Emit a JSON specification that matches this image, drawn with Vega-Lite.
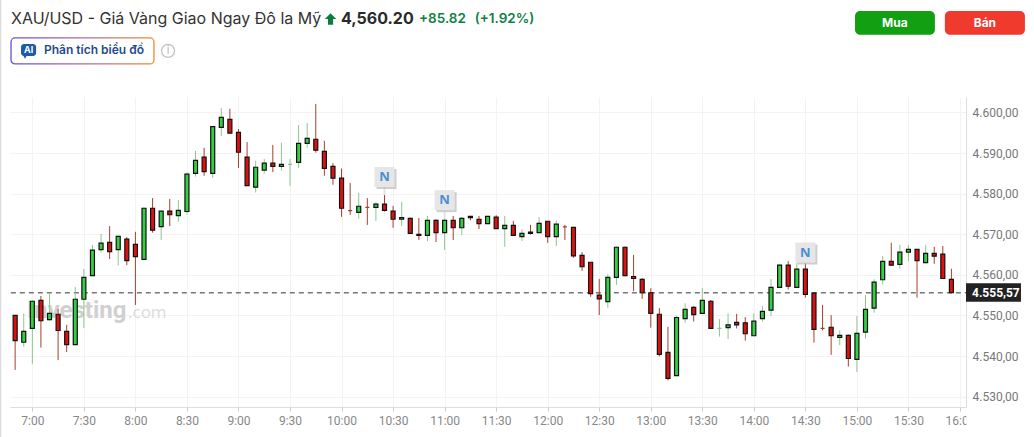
{"$schema":"https://vega.github.io/schema/vega-lite/v6.json","width":956,"height":310,"autosize":"none","padding":{"left":10,"top":97,"right":68,"bottom":30},"background":"#ffffff",
"config":{"view":{"stroke":null},"text":{"font":"Inter"}},
"datasets":{"candles":[
{"t":"2025-01-02T06:50","o":4550.0,"h":4550.0,"l":4536.6,"c":4543.8,"d":"down"},
{"t":"2025-01-02T06:55","o":4543.4,"h":4550.5,"l":4542.3,"c":4546.1,"d":"up"},
{"t":"2025-01-02T07:00","o":4546.8,"h":4553.7,"l":4538.1,"c":4553.5,"d":"up"},
{"t":"2025-01-02T07:05","o":4553.7,"h":4554.8,"l":4542.1,"c":4548.7,"d":"down"},
{"t":"2025-01-02T07:10","o":4549.0,"h":4555.3,"l":4548.7,"c":4550.5,"d":"up"},
{"t":"2025-01-02T07:15","o":4550.3,"h":4551.6,"l":4539.0,"c":4546.3,"d":"down"},
{"t":"2025-01-02T07:20","o":4546.1,"h":4547.7,"l":4541.0,"c":4542.8,"d":"down"},
{"t":"2025-01-02T07:25","o":4542.8,"h":4557.0,"l":4542.8,"c":4554.0,"d":"up"},
{"t":"2025-01-02T07:30","o":4554.0,"h":4561.5,"l":4546.9,"c":4559.4,"d":"up"},
{"t":"2025-01-02T07:35","o":4559.8,"h":4567.4,"l":4559.8,"c":4566.1,"d":"up"},
{"t":"2025-01-02T07:40","o":4566.2,"h":4570.1,"l":4565.5,"c":4567.8,"d":"up"},
{"t":"2025-01-02T07:45","o":4568.0,"h":4572.0,"l":4563.9,"c":4565.7,"d":"down"},
{"t":"2025-01-02T07:50","o":4566.2,"h":4569.7,"l":4562.3,"c":4569.5,"d":"up"},
{"t":"2025-01-02T07:55","o":4568.8,"h":4569.3,"l":4562.4,"c":4563.5,"d":"down"},
{"t":"2025-01-02T08:00","o":4567.5,"h":4570.6,"l":4552.6,"c":4564.5,"d":"down"},
{"t":"2025-01-02T08:05","o":4563.8,"h":4576.6,"l":4563.8,"c":4576.4,"d":"up"},
{"t":"2025-01-02T08:10","o":4576.4,"h":4578.9,"l":4570.4,"c":4571.0,"d":"down"},
{"t":"2025-01-02T08:15","o":4571.9,"h":4575.8,"l":4568.6,"c":4575.7,"d":"up"},
{"t":"2025-01-02T08:20","o":4575.7,"h":4578.7,"l":4572.0,"c":4574.8,"d":"down"},
{"t":"2025-01-02T08:25","o":4574.6,"h":4578.4,"l":4573.1,"c":4575.9,"d":"up"},
{"t":"2025-01-02T08:30","o":4575.6,"h":4585.2,"l":4574.8,"c":4584.8,"d":"up"},
{"t":"2025-01-02T08:35","o":4585.0,"h":4590.5,"l":4584.2,"c":4588.2,"d":"up"},
{"t":"2025-01-02T08:40","o":4589.0,"h":4591.3,"l":4584.4,"c":4585.4,"d":"down"},
{"t":"2025-01-02T08:45","o":4585.0,"h":4596.7,"l":4583.9,"c":4596.5,"d":"up"},
{"t":"2025-01-02T08:50","o":4596.3,"h":4601.1,"l":4594.2,"c":4598.8,"d":"up"},
{"t":"2025-01-02T08:55","o":4598.3,"h":4600.9,"l":4594.9,"c":4594.9,"d":"down"},
{"t":"2025-01-02T09:00","o":4595.1,"h":4595.9,"l":4586.3,"c":4590.2,"d":"down"},
{"t":"2025-01-02T09:05","o":4589.0,"h":4592.7,"l":4582.0,"c":4582.0,"d":"down"},
{"t":"2025-01-02T09:10","o":4581.6,"h":4588.1,"l":4580.3,"c":4586.5,"d":"up"},
{"t":"2025-01-02T09:15","o":4585.8,"h":4588.5,"l":4584.9,"c":4587.5,"d":"up"},
{"t":"2025-01-02T09:20","o":4587.5,"h":4592.0,"l":4585.3,"c":4586.7,"d":"down"},
{"t":"2025-01-02T09:25","o":4586.7,"h":4592.5,"l":4585.7,"c":4587.2,"d":"up"},
{"t":"2025-01-02T09:30","o":4587.2,"h":4588.5,"l":4581.9,"c":4587.2,"d":"up"},
{"t":"2025-01-02T09:35","o":4587.7,"h":4596.9,"l":4586.3,"c":4592.4,"d":"up"},
{"t":"2025-01-02T09:40","o":4592.4,"h":4597.4,"l":4591.3,"c":4593.6,"d":"up"},
{"t":"2025-01-02T09:45","o":4593.4,"h":4602.1,"l":4590.1,"c":4590.7,"d":"down"},
{"t":"2025-01-02T09:50","o":4590.4,"h":4593.0,"l":4584.4,"c":4586.2,"d":"down"},
{"t":"2025-01-02T09:55","o":4586.7,"h":4587.5,"l":4582.2,"c":4583.8,"d":"down"},
{"t":"2025-01-02T10:00","o":4583.8,"h":4586.2,"l":4574.3,"c":4576.4,"d":"down"},
{"t":"2025-01-02T10:05","o":4575.8,"h":4582.6,"l":4574.8,"c":4575.8,"d":"down"},
{"t":"2025-01-02T10:10","o":4575.4,"h":4580.2,"l":4573.8,"c":4576.9,"d":"up"},
{"t":"2025-01-02T10:15","o":4576.6,"h":4578.9,"l":4572.3,"c":4576.6,"d":"down"},
{"t":"2025-01-02T10:20","o":4576.6,"h":4577.9,"l":4573.3,"c":4577.4,"d":"up"},
{"t":"2025-01-02T10:25","o":4577.4,"h":4579.7,"l":4575.6,"c":4575.9,"d":"down"},
{"t":"2025-01-02T10:30","o":4575.7,"h":4577.0,"l":4571.6,"c":4573.7,"d":"down"},
{"t":"2025-01-02T10:35","o":4573.7,"h":4578.0,"l":4572.0,"c":4574.1,"d":"up"},
{"t":"2025-01-02T10:40","o":4573.9,"h":4574.1,"l":4570.2,"c":4570.2,"d":"down"},
{"t":"2025-01-02T10:45","o":4570.0,"h":4574.0,"l":4568.6,"c":4569.7,"d":"down"},
{"t":"2025-01-02T10:50","o":4569.7,"h":4574.5,"l":4568.3,"c":4573.4,"d":"up"},
{"t":"2025-01-02T10:55","o":4573.4,"h":4573.7,"l":4568.1,"c":4570.4,"d":"down"},
{"t":"2025-01-02T11:00","o":4570.4,"h":4573.9,"l":4566.1,"c":4573.4,"d":"up"},
{"t":"2025-01-02T11:05","o":4573.4,"h":4574.5,"l":4568.6,"c":4571.6,"d":"down"},
{"t":"2025-01-02T11:10","o":4571.6,"h":4574.2,"l":4569.8,"c":4573.9,"d":"up"},
{"t":"2025-01-02T11:15","o":4574.4,"h":4574.5,"l":4573.4,"c":4574.1,"d":"down"},
{"t":"2025-01-02T11:20","o":4573.7,"h":4574.5,"l":4571.3,"c":4572.6,"d":"down"},
{"t":"2025-01-02T11:25","o":4572.6,"h":4574.5,"l":4572.6,"c":4574.4,"d":"up"},
{"t":"2025-01-02T11:30","o":4574.2,"h":4574.7,"l":4571.4,"c":4571.4,"d":"down"},
{"t":"2025-01-02T11:35","o":4571.4,"h":4574.5,"l":4566.9,"c":4572.2,"d":"up"},
{"t":"2025-01-02T11:40","o":4572.2,"h":4573.3,"l":4569.7,"c":4569.7,"d":"down"},
{"t":"2025-01-02T11:45","o":4569.4,"h":4571.2,"l":4568.3,"c":4570.2,"d":"up"},
{"t":"2025-01-02T11:50","o":4570.5,"h":4572.3,"l":4569.9,"c":4570.2,"d":"down"},
{"t":"2025-01-02T11:55","o":4570.4,"h":4574.2,"l":4570.4,"c":4572.7,"d":"up"},
{"t":"2025-01-02T12:00","o":4573.2,"h":4573.2,"l":4567.9,"c":4569.4,"d":"down"},
{"t":"2025-01-02T12:05","o":4569.4,"h":4573.4,"l":4567.1,"c":4572.5,"d":"up"},
{"t":"2025-01-02T12:10","o":4571.8,"h":4572.3,"l":4568.6,"c":4571.8,"d":"down"},
{"t":"2025-01-02T12:15","o":4571.7,"h":4571.7,"l":4564.2,"c":4564.7,"d":"down"},
{"t":"2025-01-02T12:20","o":4564.8,"h":4565.6,"l":4561.0,"c":4562.0,"d":"down"},
{"t":"2025-01-02T12:25","o":4563.1,"h":4563.1,"l":4554.6,"c":4555.4,"d":"down"},
{"t":"2025-01-02T12:30","o":4555.0,"h":4559.0,"l":4550.1,"c":4554.1,"d":"down"},
{"t":"2025-01-02T12:35","o":4553.4,"h":4560.2,"l":4551.9,"c":4559.4,"d":"up"},
{"t":"2025-01-02T12:40","o":4559.4,"h":4567.0,"l":4557.5,"c":4566.8,"d":"up"},
{"t":"2025-01-02T12:45","o":4566.8,"h":4567.0,"l":4559.7,"c":4559.8,"d":"down"},
{"t":"2025-01-02T12:50","o":4559.6,"h":4564.9,"l":4556.0,"c":4559.1,"d":"down"},
{"t":"2025-01-02T12:55","o":4558.9,"h":4559.2,"l":4554.1,"c":4555.6,"d":"down"},
{"t":"2025-01-02T13:00","o":4555.6,"h":4556.7,"l":4547.0,"c":4550.5,"d":"down"},
{"t":"2025-01-02T13:05","o":4550.3,"h":4551.8,"l":4539.9,"c":4540.4,"d":"down"},
{"t":"2025-01-02T13:10","o":4540.9,"h":4547.2,"l":4534.0,"c":4534.5,"d":"down"},
{"t":"2025-01-02T13:15","o":4535.2,"h":4550.0,"l":4535.2,"c":4549.5,"d":"up"},
{"t":"2025-01-02T13:20","o":4549.2,"h":4553.0,"l":4548.2,"c":4551.5,"d":"up"},
{"t":"2025-01-02T13:25","o":4552.0,"h":4552.3,"l":4548.5,"c":4550.2,"d":"down"},
{"t":"2025-01-02T13:30","o":4550.5,"h":4556.8,"l":4550.5,"c":4553.7,"d":"up"},
{"t":"2025-01-02T13:35","o":4553.5,"h":4553.8,"l":4546.8,"c":4546.8,"d":"down"},
{"t":"2025-01-02T13:40","o":4546.8,"h":4549.1,"l":4544.8,"c":4546.8,"d":"up"},
{"t":"2025-01-02T13:45","o":4547.0,"h":4550.5,"l":4544.2,"c":4547.7,"d":"up"},
{"t":"2025-01-02T13:50","o":4548.3,"h":4550.4,"l":4546.8,"c":4547.7,"d":"down"},
{"t":"2025-01-02T13:55","o":4548.2,"h":4549.6,"l":4543.8,"c":4545.5,"d":"down"},
{"t":"2025-01-02T14:00","o":4545.0,"h":4550.5,"l":4545.0,"c":4548.6,"d":"up"},
{"t":"2025-01-02T14:05","o":4549.2,"h":4552.3,"l":4548.5,"c":4551.0,"d":"up"},
{"t":"2025-01-02T14:10","o":4551.3,"h":4559.0,"l":4549.9,"c":4556.9,"d":"up"},
{"t":"2025-01-02T14:15","o":4556.9,"h":4562.6,"l":4556.9,"c":4562.4,"d":"up"},
{"t":"2025-01-02T14:20","o":4562.4,"h":4563.4,"l":4556.4,"c":4557.2,"d":"down"},
{"t":"2025-01-02T14:25","o":4556.9,"h":4562.9,"l":4556.8,"c":4561.4,"d":"up"},
{"t":"2025-01-02T14:30","o":4561.4,"h":4562.9,"l":4554.4,"c":4555.2,"d":"down"},
{"t":"2025-01-02T14:35","o":4555.5,"h":4555.7,"l":4543.3,"c":4546.6,"d":"down"},
{"t":"2025-01-02T14:40","o":4546.8,"h":4552.6,"l":4546.3,"c":4546.8,"d":"down"},
{"t":"2025-01-02T14:45","o":4547.1,"h":4550.1,"l":4540.3,"c":4545.0,"d":"down"},
{"t":"2025-01-02T14:50","o":4544.6,"h":4546.3,"l":4542.7,"c":4545.1,"d":"up"},
{"t":"2025-01-02T14:55","o":4545.1,"h":4545.3,"l":4537.4,"c":4539.4,"d":"down"},
{"t":"2025-01-02T15:00","o":4539.2,"h":4549.9,"l":4536.1,"c":4545.6,"d":"up"},
{"t":"2025-01-02T15:05","o":4545.9,"h":4555.0,"l":4544.3,"c":4551.5,"d":"up"},
{"t":"2025-01-02T15:10","o":4551.8,"h":4558.9,"l":4550.7,"c":4558.2,"d":"up"},
{"t":"2025-01-02T15:15","o":4558.8,"h":4564.6,"l":4557.6,"c":4563.3,"d":"up"},
{"t":"2025-01-02T15:20","o":4563.3,"h":4567.9,"l":4562.2,"c":4562.4,"d":"down"},
{"t":"2025-01-02T15:25","o":4562.6,"h":4567.4,"l":4561.5,"c":4565.6,"d":"up"},
{"t":"2025-01-02T15:30","o":4565.6,"h":4567.4,"l":4563.4,"c":4566.3,"d":"up"},
{"t":"2025-01-02T15:35","o":4566.3,"h":4566.3,"l":4554.4,"c":4563.5,"d":"down"},
{"t":"2025-01-02T15:40","o":4563.0,"h":4567.4,"l":4562.9,"c":4565.3,"d":"up"},
{"t":"2025-01-02T15:45","o":4565.3,"h":4566.9,"l":4562.7,"c":4564.6,"d":"down"},
{"t":"2025-01-02T15:50","o":4565.1,"h":4567.1,"l":4559.1,"c":4559.1,"d":"down"},
{"t":"2025-01-02T15:55","o":4558.9,"h":4561.5,"l":4555.5,"c":4555.6,"d":"down"}
],
"news":[{"t":"2025-01-02T10:25","p":4584.1,"h":4579.7,"label":"N"},{"t":"2025-01-02T11:00","p":4578.4,"h":4573.9,"label":"N"},{"t":"2025-01-02T14:30","p":4565.5,"h":4562.9,"label":"N"}]},
"layer":[
{"data":{"values":[{"label":"Investing"}]},"mark":{"type":"text","align":"left","baseline":"alphabetic","font":"Roboto","fontWeight":"bold","fontSize":24,"color":"#d0d0d0"},
"encoding":{"x":{"datum":{"year":2025,"month":1,"date":2,"hours":6,"minutes":56,"seconds":54},"type":"temporal","scale":{"type":"time","domain":["2025-01-02T06:47:00","2025-01-02T16:03:30"],"nice":false,"padding":0},"axis":{"title":null,"format":"%-H:%M","values":["2025-01-02T07:00","2025-01-02T07:30","2025-01-02T08:00","2025-01-02T08:30","2025-01-02T09:00","2025-01-02T09:30","2025-01-02T10:00","2025-01-02T10:30","2025-01-02T11:00","2025-01-02T11:30","2025-01-02T12:00","2025-01-02T12:30","2025-01-02T13:00","2025-01-02T13:30","2025-01-02T14:00","2025-01-02T14:30","2025-01-02T15:00","2025-01-02T15:30","2025-01-02T16:00"],"labelFont":"Roboto","labelFontSize":12,"labelColor":"#888888","labelPadding":4,"labelOverlap":false,"labelFlush":false,"grid":true,"gridColor":"#f3f3f3","gridWidth":1,"domainColor":"#dddddd","tickColor":"#cccccc","tickSize":4}},
"y":{"datum":4549.4,"type":"quantitative","scale":{"domain":[4527.46,4603.8],"nice":false,"zero":false,"padding":0},"axis":{"title":null,"orient":"right","values":[4530,4540,4550,4560,4570,4580,4590,4600],"labelExpr":"replace(replace(replace(format(datum.value,',.2f'),',','_'),'.',','),'_','.')","labelFont":"Roboto","labelFontSize":12,"labelColor":"#777777","labelPadding":6,"grid":true,"gridColor":"#f3f3f3","gridWidth":1,"domainColor":"#dddddd","ticks":false}},
"text":{"field":"label","type":"nominal"}}},
{"data":{"values":[{"label":".com"}]},"mark":{"type":"text","align":"left","baseline":"alphabetic","font":"Open Sans","fontSize":17,"color":"#dcdcdc"},
"encoding":{"x":{"datum":{"year":2025,"month":1,"date":2,"hours":7,"minutes":55,"seconds":42},"type":"temporal"},"y":{"datum":4549.4,"type":"quantitative"},"text":{"field":"label","type":"nominal"}}},
{"data":{"values":[{"p":4555.57}]},"mark":{"type":"rule","color":"#333333","strokeWidth":1,"strokeDash":[5,4]},
"encoding":{"x":{"datum":{"year":2025,"month":1,"date":2,"hours":6,"minutes":47,"seconds":30},"type":"temporal"},"x2":{"datum":{"year":2025,"month":1,"date":2,"hours":16,"minutes":3,"seconds":30},"type":"temporal"},"y":{"field":"p","type":"quantitative"}}},
{"data":{"name":"candles"},"mark":{"type":"rule","strokeWidth":1},
"encoding":{"x":{"field":"t","type":"temporal"},"y":{"field":"h","type":"quantitative"},"y2":{"field":"l"},
"color":{"field":"d","type":"nominal","scale":{"domain":["up","down"],"range":["#8fc48f","#a3402c"]},"legend":null}}},
{"data":{"name":"candles"},"mark":{"type":"bar","size":4,"strokeWidth":1.2},
"encoding":{"x":{"field":"t","type":"temporal"},"y":{"field":"o","type":"quantitative"},"y2":{"field":"c"},
"fill":{"field":"d","type":"nominal","scale":{"domain":["up","down"],"range":["#33d044","#e01010"]},"legend":null},
"stroke":{"condition":[{"test":"datum.o==datum.c && datum.d=='up'","value":"#8fc48f"},{"test":"datum.o==datum.c","value":"#a3402c"}],"value":"#111111"}}},
{"data":{"name":"news"},"mark":{"type":"rule","color":"#e4e4e4","strokeWidth":2},"encoding":{"x":{"field":"t","type":"temporal"},"y":{"field":"p","type":"quantitative"},"y2":{"field":"h"}}},
{"data":{"name":"news"},"mark":{"type":"point","shape":"square","filled":true,"size":400,"color":"#bbbbbb","opacity":0.7,"xOffset":2,"yOffset":2},"encoding":{"x":{"field":"t","type":"temporal"},"y":{"field":"p","type":"quantitative"}}},
{"data":{"name":"news"},"mark":{"type":"point","shape":"square","filled":true,"size":400,"color":"#e6e6e6","opacity":1},"encoding":{"x":{"field":"t","type":"temporal"},"y":{"field":"p","type":"quantitative"}}},
{"data":{"name":"news"},"mark":{"type":"text","font":"Open Sans","fontWeight":"bold","fontSize":13,"color":"#4a8fd6","baseline":"middle"},"encoding":{"x":{"field":"t","type":"temporal"},"y":{"field":"p","type":"quantitative"},"text":{"field":"label","type":"nominal"}}},
{"data":{"values":[{}]},"mark":{"type":"rect","color":"#ffffff"},"encoding":{"x":{"datum":{"year":2025,"month":1,"date":2,"hours":16,"minutes":3,"seconds":45},"type":"temporal"},"x2":{"datum":{"year":2025,"month":1,"date":2,"hours":16,"minutes":20,"seconds":0},"type":"temporal"},"y":{"datum":4527.2,"type":"quantitative"},"y2":{"datum":4520.5,"type":"quantitative"}}},
{"data":{"values":[{}]},"mark":{"type":"rect","color":"#222222"},"encoding":{"x":{"datum":{"year":2025,"month":1,"date":2,"hours":16,"minutes":3,"seconds":30},"type":"temporal"},"x2":{"datum":{"year":2025,"month":1,"date":2,"hours":16,"minutes":35,"seconds":30},"type":"temporal"},"y":{"datum":4557.93,"type":"quantitative"},"y2":{"datum":4553.4,"type":"quantitative"}}},
{"data":{"values":[{"label":"4.555,57"}]},"mark":{"type":"text","align":"left","baseline":"middle","dx":6,"font":"Roboto","fontWeight":"bold","fontSize":12,"color":"#ffffff"},"encoding":{"x":{"datum":{"year":2025,"month":1,"date":2,"hours":16,"minutes":3,"seconds":30},"type":"temporal"},"y":{"datum":4555.57,"type":"quantitative"},"text":{"field":"label","type":"nominal"}}},
{"data":{"values":[{}]},"mark":{"type":"rule","color":"#dcdcdc","strokeWidth":1.5},"encoding":{"x":{"datum":{"year":2025,"month":1,"date":2,"hours":6,"minutes":41,"seconds":30},"type":"temporal"},"y":{"datum":4627.7,"type":"quantitative"},"y2":{"datum":4520.1,"type":"quantitative"}}},
{"data":{"values":[{"label":"XAU/USD - Giá Vàng Giao Ngay Đô la Mỹ"}]},"mark":{"type":"text","align":"left","baseline":"middle","fontSize":16,"color":"#333333"},"encoding":{"x":{"datum":{"year":2025,"month":1,"date":2,"hours":6,"minutes":47,"seconds":36},"type":"temporal"},"y":{"datum":4623.0,"type":"quantitative"},"text":{"field":"label","type":"nominal"}}},
{"data":{"values":[{}]},"mark":{"type":"point","filled":true,"size":130,"color":"#0e7c3f","opacity":1,"shape":"M0,-1L1,0L0.45,0L0.45,1L-0.45,1L-0.45,0L-1,0Z"},"encoding":{"x":{"datum":{"year":2025,"month":1,"date":2,"hours":9,"minutes":53,"seconds":36},"type":"temporal"},"y":{"datum":4623.0,"type":"quantitative"}}},
{"data":{"values":[{"label":"4,560.20"}]},"mark":{"type":"text","align":"left","baseline":"middle","fontSize":16,"fontWeight":"bold","color":"#2a2a2a"},"encoding":{"x":{"datum":{"year":2025,"month":1,"date":2,"hours":9,"minutes":59,"seconds":42},"type":"temporal"},"y":{"datum":4623.0,"type":"quantitative"},"text":{"field":"label","type":"nominal"}}},
{"data":{"values":[{"label":"+85.82"}]},"mark":{"type":"text","align":"left","baseline":"middle","fontSize":13.5,"fontWeight":600,"color":"#0e8043"},"encoding":{"x":{"datum":{"year":2025,"month":1,"date":2,"hours":10,"minutes":45,"seconds":6},"type":"temporal"},"y":{"datum":4623.0,"type":"quantitative"},"text":{"field":"label","type":"nominal"}}},
{"data":{"values":[{"label":"(+1.92%)"}]},"mark":{"type":"text","align":"left","baseline":"middle","fontSize":13.5,"fontWeight":600,"color":"#0e8043"},"encoding":{"x":{"datum":{"year":2025,"month":1,"date":2,"hours":11,"minutes":17,"seconds":30},"type":"temporal"},"y":{"datum":4623.0,"type":"quantitative"},"text":{"field":"label","type":"nominal"}}},
{"data":{"values":[{}]},"mark":{"type":"rect","fill":"#ffffff","cornerRadius":4,"strokeWidth":1.3,"stroke":{"gradient":"linear","x1":0,"y1":0,"x2":1,"y2":0,"stops":[{"offset":0,"color":"#6a4fd8"},{"offset":0.5,"color":"#b06a9a"},{"offset":1,"color":"#ef8a30"}]}},"encoding":{"x":{"datum":{"year":2025,"month":1,"date":2,"hours":6,"minutes":47,"seconds":36},"type":"temporal"},"x2":{"datum":{"year":2025,"month":1,"date":2,"hours":8,"minutes":10,"seconds":48},"type":"temporal"},"y":{"datum":4618.35,"type":"quantitative"},"y2":{"datum":4611.95,"type":"quantitative"}}},
{"data":{"values":[{}]},"mark":{"type":"rect","color":"#1f5aa8","cornerRadius":3},"encoding":{"x":{"datum":{"year":2025,"month":1,"date":2,"hours":6,"minutes":53,"seconds":24},"type":"temporal"},"x2":{"datum":{"year":2025,"month":1,"date":2,"hours":7,"minutes":2,"seconds":12},"type":"temporal"},"y":{"datum":4616.87,"type":"quantitative"},"y2":{"datum":4613.9,"type":"quantitative"}}},
{"data":{"values":[{}]},"mark":{"type":"point","shape":"triangle-down","filled":true,"size":18,"color":"#1f5aa8","opacity":1},"encoding":{"x":{"datum":{"year":2025,"month":1,"date":2,"hours":6,"minutes":55,"seconds":45},"type":"temporal"},"y":{"datum":4613.67,"type":"quantitative"}}},
{"data":{"values":[{"label":"AI"}]},"mark":{"type":"text","baseline":"middle","fontSize":9,"fontWeight":"bold","color":"#ffffff"},"encoding":{"x":{"datum":{"year":2025,"month":1,"date":2,"hours":6,"minutes":57,"seconds":48},"type":"temporal"},"y":{"datum":4615.4,"type":"quantitative"},"text":{"field":"label","type":"nominal"}}},
{"data":{"values":[{"label":"Phân tích biểu đồ"}]},"mark":{"type":"text","align":"left","baseline":"middle","fontSize":12,"fontWeight":600,"color":"#1f4a8c"},"encoding":{"x":{"datum":{"year":2025,"month":1,"date":2,"hours":7,"minutes":6,"seconds":48},"type":"temporal"},"y":{"datum":4615.4,"type":"quantitative"},"text":{"field":"label","type":"nominal"}}},
{"data":{"values":[{}]},"mark":{"type":"point","shape":"circle","filled":false,"size":170,"color":"#c4c4c4","strokeWidth":1.3,"opacity":1},"encoding":{"x":{"datum":{"year":2025,"month":1,"date":2,"hours":8,"minutes":19,"seconds":0},"type":"temporal"},"y":{"datum":4615.15,"type":"quantitative"}}},
{"data":{"values":[{"label":"i"}]},"mark":{"type":"text","baseline":"middle","fontSize":11,"color":"#b8b8b8"},"encoding":{"x":{"datum":{"year":2025,"month":1,"date":2,"hours":8,"minutes":19,"seconds":0},"type":"temporal"},"y":{"datum":4615.15,"type":"quantitative"},"text":{"field":"label","type":"nominal"}}},
{"data":{"values":[{}]},"mark":{"type":"rect","color":"#11a011","cornerRadius":5},"encoding":{"x":{"datum":{"year":2025,"month":1,"date":2,"hours":14,"minutes":58,"seconds":54},"type":"temporal"},"x2":{"datum":{"year":2025,"month":1,"date":2,"hours":15,"minutes":45,"seconds":24},"type":"temporal"},"y":{"datum":4625.0,"type":"quantitative"},"y2":{"datum":4619.1,"type":"quantitative"}}},
{"data":{"values":[{"label":"Mua"}]},"mark":{"type":"text","baseline":"middle","fontSize":12,"fontWeight":"bold","color":"#ffffff"},"encoding":{"x":{"datum":{"year":2025,"month":1,"date":2,"hours":15,"minutes":22,"seconds":6},"type":"temporal"},"y":{"datum":4622.05,"type":"quantitative"},"text":{"field":"label","type":"nominal"}}},
{"data":{"values":[{}]},"mark":{"type":"rect","color":"#ef3a2d","cornerRadius":5},"encoding":{"x":{"datum":{"year":2025,"month":1,"date":2,"hours":15,"minutes":51,"seconds":12},"type":"temporal"},"x2":{"datum":{"year":2025,"month":1,"date":2,"hours":16,"minutes":37,"seconds":48},"type":"temporal"},"y":{"datum":4625.0,"type":"quantitative"},"y2":{"datum":4619.1,"type":"quantitative"}}},
{"data":{"values":[{"label":"Bán"}]},"mark":{"type":"text","baseline":"middle","fontSize":12,"fontWeight":"bold","color":"#ffffff"},"encoding":{"x":{"datum":{"year":2025,"month":1,"date":2,"hours":16,"minutes":14,"seconds":30},"type":"temporal"},"y":{"datum":4622.05,"type":"quantitative"},"text":{"field":"label","type":"nominal"}}}
]}
